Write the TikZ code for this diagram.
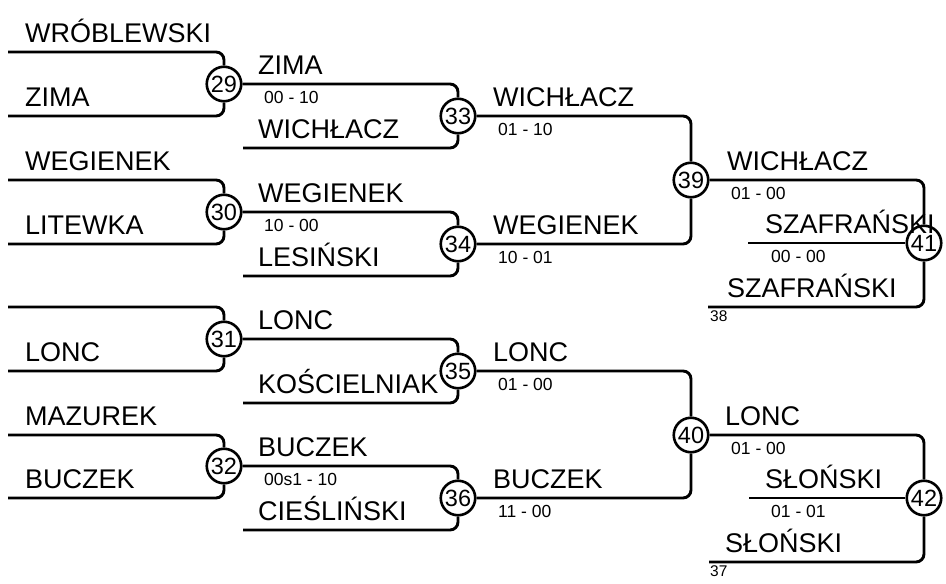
\documentclass[tikz,border=0pt]{standalone}
\usepackage{fontspec}
\setmainfont{Liberation Sans}
\usepackage{tikz}
\tikzset{
  game/.style={circle,draw,line width=2.6pt,minimum size=34.5pt,inner sep=0pt,font=\fontsize{23.5}{24}\selectfont},
  wire/.style={line width=2.9pt,rounded corners=8pt},
  player/.style={anchor=base west,inner sep=0pt,font=\fontsize{27}{28}\selectfont},
  score/.style={anchor=base west,inner sep=0pt,font=\fontsize{17.5}{18}\selectfont},
  seed/.style={anchor=base west,inner sep=0pt,font=\fontsize{15.5}{16}\selectfont},
}

\begin{document}
\begin{tikzpicture}[x=1pt,y=-1pt]
  \useasboundingbox (0,0) rectangle (946,584);
  % games
  \node[game] (m29) at (224,84)  {29};
  \node[game] (m30) at (224,212) {30};
  \node[game] (m31) at (224,339) {31};
  \node[game] (m32) at (224,466) {32};
  \node[game] (m33) at (458,116) {33};
  \node[game] (m34) at (458,244) {34};
  \node[game] (m35) at (458,371) {35};
  \node[game] (m36) at (458,498) {36};
  \node[game] (m39) at (691,180) {39};
  \node[game] (m40) at (691,435) {40};
  \node[game] (m41) at (924,243) {41};
  \node[game] (m42) at (924,498) {42};
  % free line ends
  \coordinate (a29) at (8,52);   \coordinate (b29) at (8,116);
  \coordinate (a30) at (8,180);  \coordinate (b30) at (8,244);
  \coordinate (a31) at (8,307);  \coordinate (b31) at (8,371);
  \coordinate (a32) at (8,435);  \coordinate (b32) at (8,498);
  \coordinate (b33) at (243,148); \coordinate (b34) at (243,276);
  \coordinate (b35) at (243,403); \coordinate (b36) at (243,530);
  \coordinate (c41) at (748,243); \coordinate (b41) at (708,307);
  \coordinate (c42) at (749,498); \coordinate (b42) at (709,562);
  % round 1
  \draw[wire] (a29) -| (m29); \draw[wire] (b29) -| (m29);
  \draw[wire] (a30) -| (m30); \draw[wire] (b30) -| (m30);
  \draw[wire] (a31) -| (m31); \draw[wire] (b31) -| (m31);
  \draw[wire] (a32) -| (m32); \draw[wire] (b32) -| (m32);
  % round 2
  \draw[wire] (m29) -| (m33); \draw[wire] (b33) -| (m33);
  \draw[wire] (m30) -| (m34); \draw[wire] (b34) -| (m34);
  \draw[wire] (m31) -| (m35); \draw[wire] (b35) -| (m35);
  \draw[wire] (m32) -| (m36); \draw[wire] (b36) -| (m36);
  % round 3
  \draw[wire] (m33) -| (m39); \draw[wire] (m34) -| (m39);
  \draw[wire] (m35) -| (m40); \draw[wire] (m36) -| (m40);
  % round 4
  \draw[wire] (m39) -| (m41); \draw[wire] (c41) -- (m41); \draw[wire] (b41) -| (m41);
  \draw[wire] (m40) -| (m42); \draw[wire] (c42) -- (m42); \draw[wire] (b42) -| (m42);
  % names
  \node[player] (p1)  at (25,42)  {WRÓBLEWSKI};
  \node[player] (p2)  at (25,106) {ZIMA};
  \node[player] (p3)  at (25,170) {WEGIENEK};
  \node[player] (p4)  at (25,234) {LITEWKA};
  \node[player] (p6)  at (25,361) {LONC};
  \node[player] (p7)  at (25,425) {MAZUREK};
  \node[player] (p8)  at (25,488) {BUCZEK};
  \node[player] (q1)  at (258,74)  {ZIMA};
  \node[player] (q2)  at (258,138) {WICHŁACZ};
  \node[player] (q3)  at (258,202) {WEGIENEK};
  \node[player] (q4)  at (258,266) {LESIŃSKI};
  \node[player] (q5)  at (258,329) {LONC};
  \node[player] (q6)  at (258,393) {KOŚCIELNIAK};
  \node[player] (q7)  at (258,456) {BUCZEK};
  \node[player] (q8)  at (258,520) {CIEŚLIŃSKI};
  \node[player] (r1)  at (493,106) {WICHŁACZ};
  \node[player] (r2)  at (493,234) {WEGIENEK};
  \node[player] (r3)  at (493,361) {LONC};
  \node[player] (r4)  at (493,488) {BUCZEK};
  \node[player] (s1)  at (727,170) {WICHŁACZ};
  \node[player] (s2)  at (765,233) {SZAFRAŃSKI};
  \node[player] (s3)  at (727,297) {SZAFRAŃSKI};
  \node[player] (s4)  at (725,425) {LONC};
  \node[player] (s5)  at (765,488) {SŁOŃSKI};
  \node[player] (s6)  at (725,552) {SŁOŃSKI};
  % scores
  \node[score] (x33) at (264,103) {00 - 10};
  \node[score] (x34) at (264,231) {10 - 00};
  \node[score] (x36) at (264,485) {00s1 - 10};
  \node[score] (x39a) at (498,135) {01 - 10};
  \node[score] (x39b) at (498,263) {10 - 01};
  \node[score] (x40a) at (498,390) {01 - 00};
  \node[score] (x40b) at (498,517) {11 - 00};
  \node[score] (x41a) at (731,199) {01 - 00};
  \node[score] (x41b) at (771,262) {00 - 00};
  \node[score] (x42a) at (731,454) {01 - 00};
  \node[score] (x42b) at (771,517) {01 - 01};
  \node[seed] (g38) at (710,321) {38};
  \node[seed] (g37) at (710,576) {37};
\end{tikzpicture}
\end{document}
